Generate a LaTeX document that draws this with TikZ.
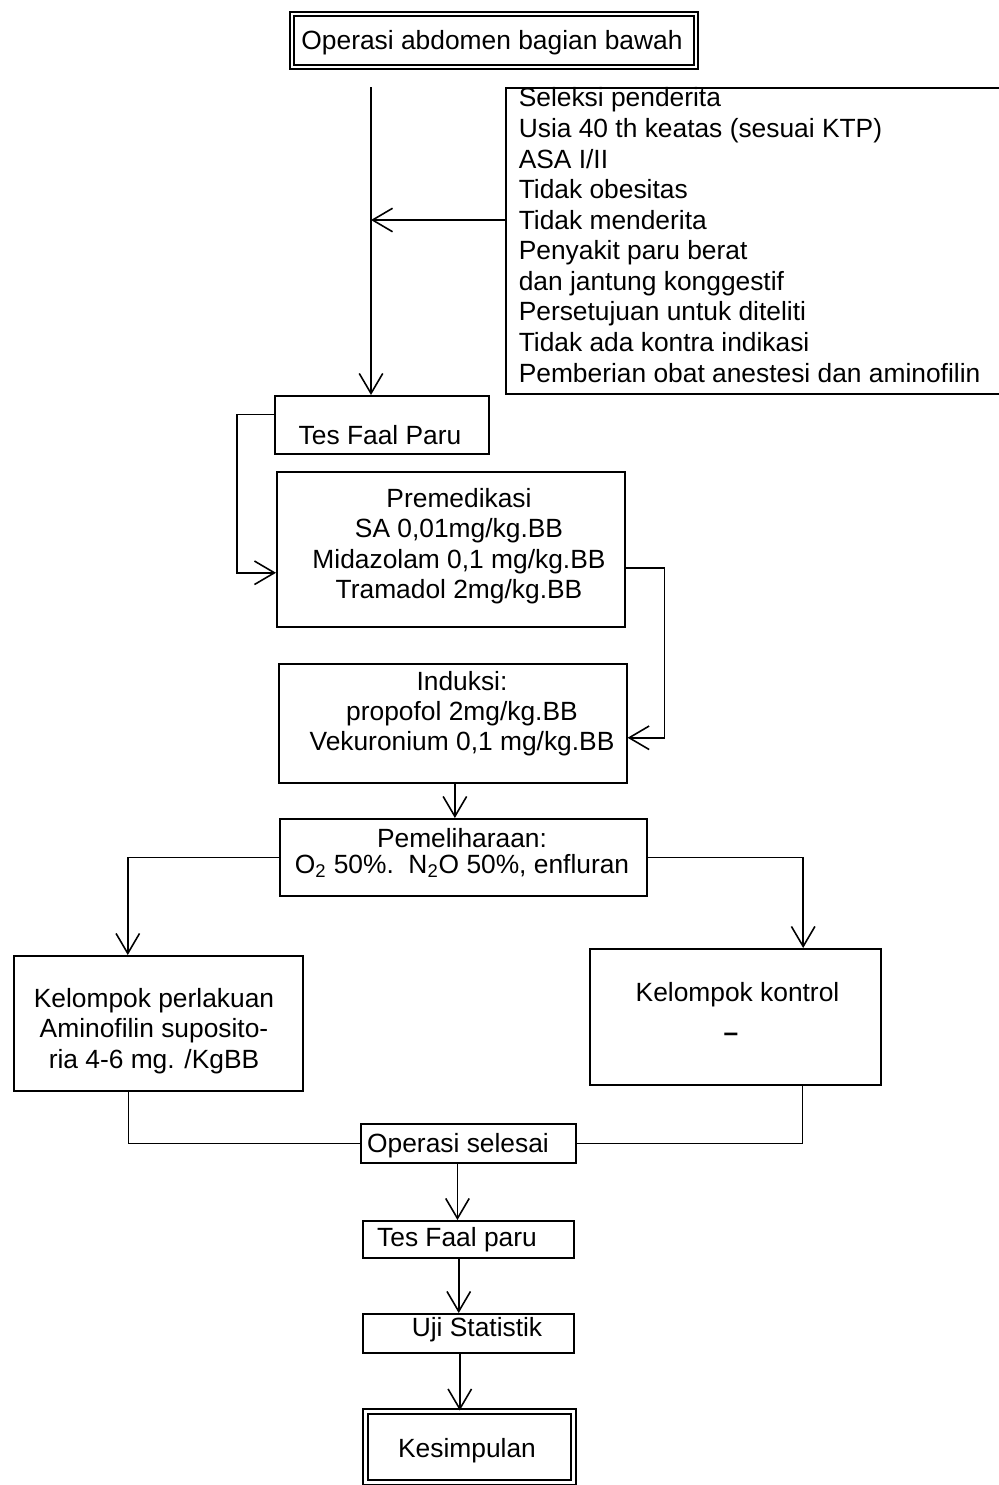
\documentclass[tikz,border=0pt]{standalone}
\usepackage{fontspec}
\setmainfont{Liberation Sans}
\usetikzlibrary{arrows.meta,calc}
\newdimen\pxl \pxl=0.2mm
\begin{document}
\begin{tikzpicture}[x=0.2mm, y=-0.2mm, line width=0.9pt,
  box/.style={draw, rectangle, inner sep=0pt, anchor=north west},
  dbl/.style={draw, rectangle, double, inner sep=0pt, anchor=north west},
  txt/.style={inner sep=0pt, font=\fontsize{15}{17.3}\selectfont},
  arr/.style={-{Straight Barb[length=4mm,width=4.7mm]}}]
\useasboundingbox (0,0) rectangle (998,1485);

% boxes
\node[dbl, double distance=1.4pt, minimum width=404\pxl, minimum height=53\pxl] (top) at (291,13) {};
\node[box, minimum width=497\pxl, minimum height=306\pxl] (crit) at (505,87) {};
\node[box, minimum width=214\pxl, minimum height=58\pxl] (tes) at (274,395) {};
\node[box, minimum width=348\pxl, minimum height=155\pxl] (prem) at (276,471) {};
\node[box, minimum width=348\pxl, minimum height=119\pxl] (ind) at (278,663) {};
\node[box, minimum width=367\pxl, minimum height=77\pxl] (pem) at (279,818) {};
\node[box, minimum width=289\pxl, minimum height=135\pxl] (perl) at (13,955) {};
\node[box, minimum width=291\pxl, minimum height=136\pxl] (kont) at (589,948) {};
\node[box, minimum width=215\pxl, minimum height=39\pxl] (opsel) at (360,1123) {};
\node[box, minimum width=211\pxl, minimum height=37\pxl] (tesb) at (362,1220) {};
\node[box, minimum width=211\pxl, minimum height=39\pxl] (uji) at (362,1313) {};
\node[dbl, double distance=1.9pt, minimum width=208\pxl, minimum height=71\pxl] (kes) at (364.5,1410.5) {};

% texts
\node[txt, anchor=base] (topT) at (492,49) {Operasi abdomen bagian bawah};
\node[txt, anchor=north west, align=left, font=\fontsize{15}{17.4}\selectfont] (critT) at (518,87) {Seleksi penderita\\Usia 40 th keatas (sesuai KTP)\\ASA I/II\\Tidak obesitas\\Tidak menderita\\Penyakit paru berat\\dan jantung konggestif\\Persetujuan untuk diteliti\\Tidak ada kontra indikasi\\Pemberian obat anestesi dan aminofilin};
\node[txt, anchor=base] (tesT) at (380,444) {Tes Faal Paru};
\node[txt, anchor=north, align=center] (premT) at (459,487.5) {Premedikasi\\SA 0,01mg/kg.BB\\Midazolam 0,1 mg/kg.BB\\Tramadol 2mg/kg.BB};
\node[txt, anchor=north, align=center, font=\fontsize{15}{17}\selectfont] (indT) at (462,670.5) {Induksi:\\propofol 2mg/kg.BB\\Vekuronium 0,1 mg/kg.BB};
\node[txt, anchor=north, align=center, font=\fontsize{15}{14.7}\selectfont] (pemT) at (462,827.5) {Pemeliharaan:\\O\textsubscript{2} 50\%.\ \ N\textsubscript{2}O 50\%, enfluran};
\node[txt, anchor=north, align=center] (perlT) at (154,987.5) {Kelompok perlakuan\\Aminofilin suposito-\\ria 4-6 mg. /KgBB};
\node[txt, anchor=base] (kontT) at (737.5,1001.5) {Kelompok kontrol};
\node[txt, anchor=base] (kontD) at (731,1041) {\textbf{–}};
\node[txt, anchor=base] (opselT) at (458,1152.5) {Operasi selesai};
\node[txt, anchor=base] (tesbT) at (457,1246.5) {Tes Faal paru};
\node[txt, anchor=base] (ujiT) at (477,1336.5) {Uji Statistik};
\node[txt, anchor=base] (kesT) at (467,1457.5) {Kesimpulan};

% connectors
\coordinate (topStart) at (371,87);
\coordinate (critOut) at (505,220);
\draw[arr] (topStart) -- (topStart |- tes.north);
\draw[arr] (critOut) -- (critOut -| topStart);
\draw[arr] ($(tes.north west)!0.33!(tes.south west)$) -- ++(-37,0) |- ($(prem.north west)!0.65!(prem.south west)$);
\draw[arr] ($(prem.north east)!0.62!(prem.south east)$) -- ++(39,0) |- ($(ind.north east)!0.62!(ind.south east)$);
\draw[arr] ($(ind.south west)!0.506!(ind.south east)$) coordinate (a1) -- (a1 |- pem.north);
\draw[arr] (pem.west) -| ($(perl.north west)!0.395!(perl.north east)$);
\draw[arr] (pem.east) -| ($(kont.north west)!0.732!(kont.north east)$);
\draw ($(perl.south west)!0.397!(perl.south east)$) |- (opsel.west);
\draw ($(kont.south west)!0.73!(kont.south east)$) |- (opsel.east);
\draw[arr] ($(opsel.south west)!0.45!(opsel.south east)$) coordinate (a2) -- (a2 |- tesb.north);
\draw[arr] ($(tesb.south west)!0.455!(tesb.south east)$) coordinate (a3) -- (a3 |- uji.north);
\draw[arr] ($(uji.south west)!0.46!(uji.south east)$) coordinate (a4) -- (a4 |- kes.north);
\end{tikzpicture}
\end{document}
